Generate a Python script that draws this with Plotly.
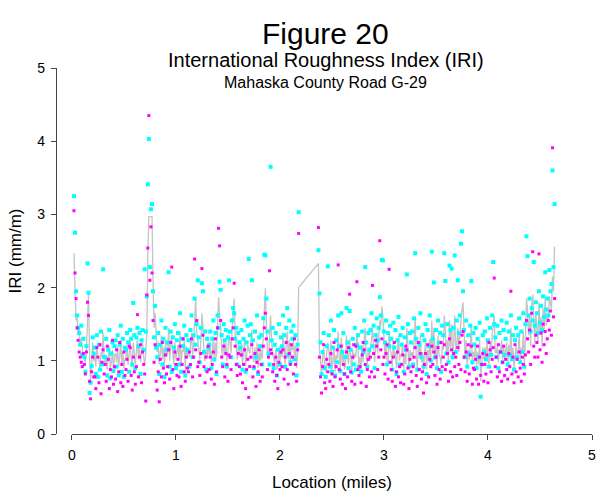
import numpy as np
import plotly.graph_objects as go

# ---- data (IRI in mm/m), sampled every 0.01 mile ----
# Segment A: 0.02 .. 2.18 miles ; Segment B: 2.37 .. 4.64 miles
loc_a = np.round(np.arange(0.02, 2.185, 0.01), 2)
loc_b = np.round(np.arange(2.37, 4.645, 0.01), 2)

cyan_a = [
    3.25, 2.75, 1.95, 1.62, 1.45, 1.38, 1.22, 1.48, 1.08, 1.30,
    1.05, 0.85, 1.20, 2.33, 1.93, 0.56, 0.70, 0.93, 1.32, 1.10,
    1.18, 0.82, 1.35, 0.78, 1.22, 0.88, 1.40, 0.95, 2.25, 1.05,
    1.05, 1.30, 0.80, 1.15, 1.42, 0.76, 1.10, 1.25, 0.86, 1.20,
    1.28, 0.92, 1.35, 0.80, 1.22, 1.48, 0.85, 1.30, 0.78, 1.18,
    1.15, 1.38, 1.25, 0.85, 1.42, 1.30, 0.95, 1.79, 1.35, 0.90,
    1.32, 1.45, 1.20, 1.38, 0.82, 1.28, 1.42, 1.15, 2.25, 1.40,
    1.88, 3.41, 4.03, 2.28, 3.07, 3.14, 1.95, 1.32, 1.75, 1.18,
    1.05, 1.38, 0.82, 1.22, 1.55, 0.95, 1.30, 0.78, 1.45, 1.15,
    1.25, 2.21, 0.92, 1.40, 0.85, 1.32, 1.18, 1.50, 0.90, 1.28,
    1.38, 0.95, 1.65, 0.85, 1.30, 1.20, 1.48, 0.80, 1.35, 1.15,
    1.28, 0.92, 1.42, 1.62, 1.05, 1.35, 1.85, 1.22, 1.50, 2.10,
    1.32, 0.98, 1.45, 2.06, 1.95, 1.12, 1.40, 0.88, 1.30, 1.18,
    1.22, 1.40, 0.90, 1.30, 1.55, 1.02, 1.38, 0.82, 1.62, 1.45,
    2.08, 1.97, 1.35, 0.95, 1.50, 1.28, 1.42, 0.92, 1.32, 2.10,
    1.40, 1.05, 1.55, 1.72, 1.65, 1.30, 1.45, 0.95, 1.38, 1.25,
    1.18, 1.42, 0.88, 1.30, 1.55, 0.85, 1.25, 1.48, 2.39, 1.35,
    1.50, 2.10, 1.28, 0.90, 1.40, 1.05, 1.62, 0.82, 1.32, 1.20,
    1.35, 0.95, 1.58, 2.45, 2.44, 1.85, 1.40, 1.10, 0.95, 3.65,
    1.28, 1.45, 0.90, 1.22, 1.38, 0.80, 1.15, 1.50, 0.95, 1.32,
    1.20, 1.62, 1.35, 0.92, 1.45, 1.72, 1.08, 1.55, 0.98, 1.40,
    1.30, 1.48, 1.02, 1.35, 0.80, 1.22, 3.03,
]
magenta_a = [
    3.05, 2.20, 1.85, 1.45, 1.28, 1.12, 1.05, 0.98, 0.92, 1.10,
    0.95, 0.82, 1.12, 1.80, 1.62, 0.72, 0.48, 0.85, 1.05, 0.78,
    0.78, 0.62, 1.18, 1.05, 0.70, 1.22, 0.55, 0.98, 1.15, 0.82,
    0.95, 0.72, 1.20, 1.02, 0.62, 0.88, 0.78, 1.28, 0.68, 0.92,
    0.75, 1.15, 0.58, 0.85, 1.25, 0.70, 0.95, 0.65, 1.12, 0.80,
    0.88, 1.02, 0.72, 1.20, 1.18, 0.80, 0.60, 1.05, 0.85, 0.68,
    0.92, 1.63, 0.78, 1.05, 1.22, 0.70, 1.12, 0.95, 0.82, 0.45,
    1.90, 2.54, 4.35, 2.10, 2.83, 2.20, 1.55, 0.98, 1.22, 0.72,
    0.60, 0.85, 0.44, 1.02, 0.78, 1.25, 0.90, 0.70, 1.08, 0.82,
    0.92, 1.15, 0.75, 1.25, 2.28, 0.88, 0.62, 1.12, 0.95, 0.80,
    1.02, 0.78, 1.20, 0.65, 0.95, 1.30, 0.85, 0.72, 1.05, 0.90,
    0.85, 1.12, 0.95, 1.30, 0.78, 1.05, 2.39, 1.15, 1.55, 0.92,
    0.98, 0.80, 1.10, 2.26, 1.35, 0.92, 0.70, 1.05, 0.85, 1.20,
    0.88, 1.05, 0.75, 0.95, 1.12, 0.68, 1.30, 0.85, 1.45, 2.81,
    2.57, 1.55, 1.05, 0.92, 1.20, 0.78, 1.10, 0.95, 0.72, 1.08,
    1.05, 0.88, 1.30, 1.45, 2.06, 1.20, 0.95, 0.80, 1.10, 0.92,
    0.82, 1.08, 0.70, 0.95, 1.15, 0.62, 0.88, 1.02, 0.50, 0.92,
    1.05, 1.22, 0.78, 0.92, 1.10, 0.65, 0.98, 0.85, 1.15, 0.72,
    0.95, 0.78, 1.20, 1.45, 1.65, 1.30, 0.88, 1.05, 2.23, 1.15,
    1.10, 0.85, 0.95, 0.72, 1.05, 0.80, 0.62, 0.98, 0.88, 1.12,
    0.92, 1.15, 0.75, 1.05, 1.25, 0.88, 0.68, 1.10, 0.95, 1.22,
    1.05, 0.82, 1.30, 0.95, 0.72, 1.15, 2.74,
]
avg_a = [
    2.47, 1.90, 1.55, 1.60, 1.35, 1.42, 1.22, 1.30, 1.15, 1.05,
    1.02, 0.98, 1.15, 1.55, 1.93, 1.05, 0.72, 0.95, 1.25, 1.00,
    1.08, 0.92, 1.18, 1.10, 0.98, 0.90, 1.12, 1.05, 1.38, 1.02,
    0.95, 1.05, 0.88, 1.12, 1.20, 0.90, 0.98, 1.15, 0.85, 1.08,
    1.10, 0.98, 1.20, 0.92, 1.05, 1.28, 0.95, 1.12, 0.90, 1.02,
    1.05, 1.18, 0.95, 1.08, 1.30, 1.02, 0.92, 1.25, 1.10, 0.95,
    1.12, 1.30, 1.02, 1.22, 0.98, 1.08, 1.25, 1.05, 0.95, 1.10,
    1.35, 2.47, 2.97, 2.97, 2.97, 2.97, 2.10, 1.45, 1.65, 1.30,
    1.12, 1.25, 0.95, 1.10, 1.35, 1.02, 1.18, 0.92, 1.28, 1.05,
    1.10, 1.45, 1.00, 1.22, 1.35, 1.08, 0.95, 1.25, 1.02, 1.12,
    1.22, 1.00, 1.40, 0.92, 1.15, 1.12, 1.28, 0.88, 1.20, 1.05,
    1.15, 1.05, 1.22, 1.38, 1.08, 1.20, 1.55, 1.83, 1.40, 1.25,
    1.20, 1.02, 1.28, 1.65, 1.48, 1.10, 1.00, 1.15, 1.05, 1.22,
    1.08, 1.20, 0.95, 1.12, 1.32, 0.98, 1.25, 1.05, 1.55, 1.87,
    1.62, 1.45, 1.15, 1.05, 1.30, 1.10, 1.25, 1.00, 1.12, 1.35,
    1.25, 1.10, 1.42, 1.58, 1.85, 1.35, 1.20, 1.02, 1.22, 1.10,
    1.05, 1.25, 0.95, 1.12, 1.30, 0.92, 1.08, 1.22, 1.15, 1.10,
    1.22, 1.42, 1.05, 0.98, 1.18, 0.95, 1.25, 0.90, 1.12, 1.00,
    1.15, 1.02, 1.35, 1.70, 1.99, 1.50, 1.12, 1.05, 1.45, 1.62,
    1.25, 1.10, 1.02, 0.98, 1.15, 0.88, 0.92, 1.20, 1.00, 1.18,
    1.05, 1.35, 1.12, 0.95, 1.25, 1.40, 1.02, 1.28, 0.98, 1.22,
    1.15, 1.28, 1.05, 1.20, 0.90, 1.10, 2.00,
]

cyan_b = [
    2.51, 1.92, 1.25, 0.82, 1.12, 1.38, 0.90, 0.78, 1.20, 2.29,
    1.35, 0.92, 1.55, 0.85, 1.18, 1.42, 0.80, 1.28, 0.98, 1.62,
    1.20, 0.86, 1.65, 1.12, 1.38, 0.82, 1.05, 1.72, 1.25, 0.90,
    1.68, 1.15, 0.84, 1.30, 0.95, 1.45, 0.88, 1.22, 1.35, 0.92,
    1.18, 0.85, 1.40, 1.12, 1.55, 2.28, 1.25, 0.92, 1.38, 1.15,
    1.42, 1.65, 1.20, 1.48, 0.90, 1.35, 1.58, 1.28, 1.45, 1.87,
    1.62, 2.38, 2.37, 1.40, 1.25, 1.55, 0.95, 1.38, 1.20, 1.48,
    1.30, 0.88, 1.52, 1.18, 1.42, 0.82, 1.28, 1.60, 0.95, 1.35,
    1.22, 1.45, 0.85, 1.32, 1.15, 2.18, 1.50, 0.92, 1.38, 1.25,
    1.40, 0.95, 1.58, 2.47, 1.30, 0.88, 1.45, 1.22, 1.65, 1.05,
    1.35, 0.92, 1.28, 1.50, 0.82, 1.42, 1.20, 1.62, 1.00, 2.49,
    1.30, 2.07, 1.05, 1.42, 0.90, 1.55, 1.25, 1.38, 0.85, 1.48,
    1.35, 2.47, 2.09, 1.10, 1.50, 0.98, 2.30, 1.42, 2.26, 1.05,
    1.45, 2.44, 1.12, 1.55, 2.10, 1.38, 1.62, 2.60, 2.77, 1.95,
    1.42, 1.05, 1.55, 0.92, 1.35, 1.10, 1.48, 2.09, 0.98, 1.38,
    1.22, 1.45, 0.90, 1.30, 1.05, 1.52, 0.51, 0.95, 1.35, 1.12,
    1.40, 1.02, 1.58, 1.28, 0.92, 1.45, 1.08, 1.62, 2.35, 1.50,
    1.32, 1.05, 1.48, 0.90, 1.38, 1.12, 1.55, 0.98, 1.42, 1.08,
    1.30, 1.52, 0.95, 1.40, 1.08, 1.62, 1.02, 1.35, 0.88, 1.28,
    1.45, 1.05, 1.35, 1.58, 0.98, 1.40, 1.12, 1.65, 0.92, 1.50,
    2.70, 2.43, 1.62, 1.85, 1.40, 1.72, 1.55, 2.35, 1.48, 1.80,
    1.65, 1.38, 1.95, 1.52, 1.75, 1.42, 1.88, 1.60, 2.21, 1.70,
    1.85, 1.62, 2.24, 1.95, 2.05, 3.60, 2.28, 3.14,
]
magenta_b = [
    2.82, 1.05, 0.78, 0.56, 0.92, 1.22, 0.70, 0.62, 1.02, 0.85,
    0.95, 0.72, 1.10, 0.82, 0.65, 1.25, 0.78, 0.92, 1.15, 2.31,
    0.88, 0.75, 1.20, 0.68, 0.95, 0.82, 0.62, 1.12, 0.78, 1.18,
    1.91, 0.85, 0.72, 1.05, 1.22, 0.68, 1.20, 2.08, 0.88, 0.80,
    0.92, 0.70, 1.08, 1.25, 1.15, 0.95, 0.65, 0.88, 1.02, 0.78,
    1.05, 0.85, 2.03, 1.10, 0.78, 1.28, 1.20, 0.88, 1.05, 2.64,
    1.15, 1.30, 0.95, 1.05, 0.82, 1.10, 1.22, 0.75, 2.25, 0.98,
    0.88, 0.72, 1.05, 1.25, 0.65, 0.85, 1.12, 0.78, 0.92, 0.70,
    0.95, 1.08, 0.68, 0.82, 1.20, 1.15, 0.90, 0.62, 1.02, 0.85,
    0.72, 0.92, 1.05, 1.18, 0.80, 0.65, 1.25, 0.88, 1.10, 0.75,
    0.85, 0.56, 0.95, 1.10, 0.70, 1.22, 0.78, 1.02, 0.92, 1.20,
    0.95, 1.12, 0.80, 1.05, 0.68, 1.18, 0.88, 0.75, 1.25, 0.92,
    1.05, 1.22, 0.88, 0.95, 1.10, 0.72, 1.30, 0.85, 1.15, 0.78,
    1.10, 0.92, 1.05, 0.80, 1.18, 0.95, 1.25, 0.88, 1.35, 1.40,
    1.05, 0.85, 1.12, 0.72, 1.22, 0.82, 1.08, 1.20, 0.68, 0.90,
    0.88, 1.02, 0.75, 1.20, 0.68, 1.05, 0.80, 0.95, 1.10, 0.72,
    0.95, 0.82, 1.08, 0.70, 1.25, 1.15, 0.85, 1.02, 1.18, 2.13,
    0.92, 1.05, 0.78, 1.22, 0.85, 1.12, 0.72, 0.98, 1.20, 0.80,
    1.02, 0.88, 0.75, 1.10, 0.92, 1.95, 0.82, 1.05, 0.70, 1.22,
    0.85, 1.02, 0.78, 1.12, 0.90, 0.72, 1.05, 0.95, 0.82, 1.08,
    1.55, 1.30, 1.12, 1.42, 0.95, 1.65, 2.49, 1.20, 1.05, 1.35,
    1.25, 1.05, 2.46, 1.15, 1.38, 0.98, 1.50, 1.22, 1.40, 1.10,
    1.30, 1.55, 1.42, 1.68, 1.35, 3.91, 1.60, 1.85,
]
avg_b = [
    2.33, 1.15, 0.98, 0.82, 1.05, 1.18, 0.92, 0.85, 1.10, 1.25,
    1.15, 0.92, 1.28, 0.88, 0.98, 1.20, 0.85, 1.08, 1.02, 1.40,
    1.05, 0.90, 1.32, 0.95, 1.15, 0.88, 0.92, 1.35, 1.08, 0.95,
    1.30, 1.00, 0.85, 1.15, 1.02, 1.10, 1.05, 1.38, 1.12, 0.95,
    1.05, 0.88, 1.22, 0.98, 1.30, 1.45, 1.02, 0.95, 1.18, 1.00,
    1.20, 1.28, 1.45, 1.25, 0.98, 1.15, 1.38, 1.10, 1.30, 1.55,
    1.48, 1.74, 1.60, 1.30, 1.05, 1.25, 1.00, 0.98, 1.40, 1.15,
    1.10, 0.92, 1.28, 1.05, 1.12, 0.90, 1.18, 1.35, 1.00, 1.08,
    1.08, 1.25, 0.88, 1.10, 0.95, 1.45, 1.22, 0.90, 1.15, 1.05,
    1.12, 1.02, 1.30, 1.58, 1.08, 0.90, 1.20, 1.05, 1.35, 0.98,
    1.12, 0.85, 1.10, 1.25, 0.88, 1.15, 1.00, 1.30, 1.02, 1.55,
    1.10, 1.45, 1.00, 1.22, 0.90, 1.35, 1.08, 1.05, 0.95, 1.20,
    1.15, 1.62, 1.45, 1.08, 1.28, 0.95, 1.55, 1.18, 1.50, 1.02,
    1.25, 1.62, 1.15, 1.20, 1.45, 1.12, 1.35, 1.55, 1.70, 1.80,
    1.30, 1.05, 1.28, 0.92, 1.15, 1.02, 1.22, 1.50, 0.95, 1.12,
    1.05, 1.22, 0.92, 1.12, 0.95, 1.28, 0.72, 0.98, 1.18, 1.02,
    1.18, 1.00, 1.30, 1.02, 0.95, 1.25, 1.05, 1.35, 1.48, 1.62,
    1.12, 1.10, 1.20, 0.98, 1.15, 1.15, 1.28, 1.02, 1.22, 1.00,
    1.15, 1.25, 0.92, 1.22, 1.05, 1.45, 1.00, 1.18, 0.90, 1.10,
    1.20, 1.08, 1.12, 1.35, 0.98, 1.18, 1.12, 1.40, 0.95, 1.30,
    1.85, 1.70, 1.35, 1.60, 1.20, 1.75, 1.90, 1.55, 1.25, 1.65,
    1.50, 1.25, 1.80, 1.35, 1.60, 1.20, 1.72, 1.42, 1.85, 1.48,
    1.62, 1.55, 1.88, 1.75, 1.70, 2.15, 1.95, 2.56,
]

x_ticks = [0, 1, 2, 3, 4, 5]
y_ticks = [0, 1, 2, 3, 4, 5]

title_main = "Figure 20"
title_sub1 = "International Roughness Index (IRI)"
title_sub2 = "Mahaska County Road G-29"

assert len(loc_a) == len(cyan_a) == len(magenta_a) == len(avg_a)
assert len(loc_b) == len(cyan_b) == len(magenta_b) == len(avg_b)

loc = list(loc_a) + list(loc_b)
cyan = cyan_a + cyan_b
magenta = magenta_a + magenta_b
avg = avg_a + avg_b

FONT = "Liberation Sans, Arial, sans-serif"

fig = go.Figure()
fig.add_trace(go.Scatter(x=loc, y=avg, mode="lines",
                         line=dict(color="#c4c4c4", width=1.3),
                         showlegend=False, hoverinfo="skip"))
fig.add_trace(go.Scatter(x=loc, y=cyan, mode="markers",
                         marker=dict(color="#00ffff", size=4, symbol="square",
                                     line=dict(width=0)),
                         showlegend=False))
fig.add_trace(go.Scatter(x=loc, y=magenta, mode="markers",
                         marker=dict(color="#ff00ff", size=3, symbol="square",
                                     line=dict(width=0)),
                         showlegend=False))

L, R, T, B = 56, 2, 68, 60
W, H = 598, 494
pw = W - L - R
ph = H - T - B

def px_x(px):
    return (px - L) / pw

def px_y(py):
    return (H - B - py) / ph

fig.update_layout(
    width=W, height=H,
    margin=dict(l=L, r=R, t=T, b=B),
    paper_bgcolor="white", plot_bgcolor="white",
    font=dict(family=FONT, color="black", size=14),
    xaxis=dict(domain=[px_x(72), 1], range=[0, 5], tickvals=x_ticks,
               showgrid=False, zeroline=False, showline=True,
               linecolor="#444444", linewidth=1.2,
               ticks="outside", ticklen=5, tickcolor="#444444",
               tickfont=dict(size=14), ticklabelstandoff=3,
               ticklabeloverflow="allow",
               title=dict(text="Location (miles)", font=dict(size=17),
                          standoff=14)),
    yaxis=dict(range=[0, 5], tickvals=y_ticks, anchor="free", position=0,
               showgrid=False, zeroline=False, showline=True,
               linecolor="#444444", linewidth=1.2,
               ticks="outside", ticklen=5, tickcolor="#444444",
               tickfont=dict(size=14), ticklabelstandoff=3,
               title=dict(text="IRI (mm/m)", font=dict(size=17),
                          standoff=10)),
    annotations=[
        dict(text=title_main, x=px_x(328), y=px_y(34), xref="paper",
             yref="paper", showarrow=False, font=dict(size=30),
             xanchor="center", yanchor="middle"),
        dict(text=title_sub1, x=px_x(328), y=px_y(60), xref="paper",
             yref="paper", showarrow=False, font=dict(size=20),
             xanchor="center", yanchor="middle"),
        dict(text=title_sub2, x=px_x(328), y=px_y(82), xref="paper",
             yref="paper", showarrow=False, font=dict(size=16),
             xanchor="center", yanchor="middle"),
    ],
)

fig.write_html("out.html", config={"displayModeBar": False},
               post_script="document.body.style.margin='0px';")
